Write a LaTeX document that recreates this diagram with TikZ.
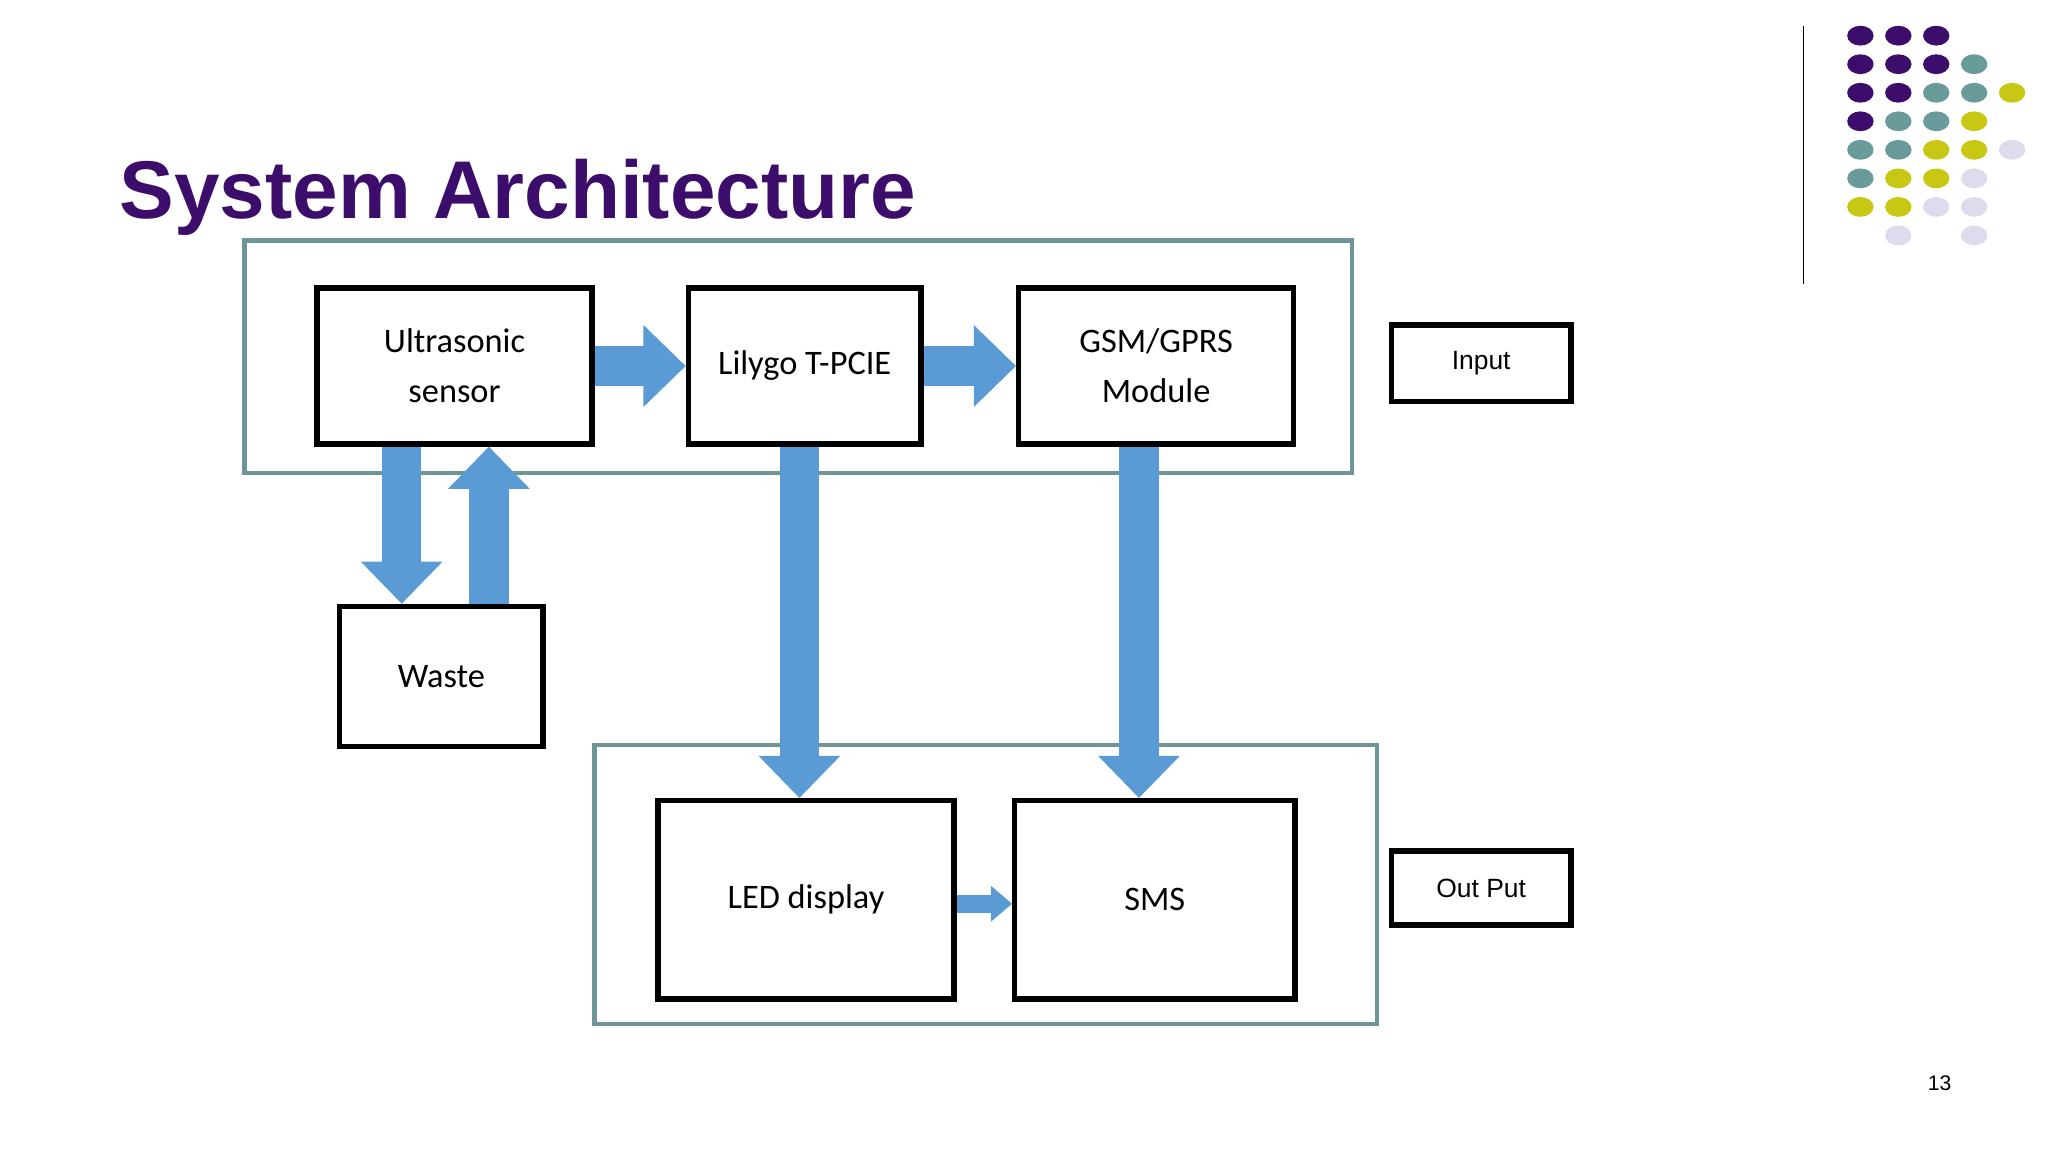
\documentclass[tikz,border=0pt]{standalone}
\usepackage{fontspec}
\setmainfont{Carlito}
\newfontfamily\titlefont{Liberation Sans}
\usetikzlibrary{arrows.meta,positioning}
\definecolor{titlepurple}{HTML}{3D0D6B}
\definecolor{dotpurple}{HTML}{3D0D6B}
\definecolor{dotteal}{HTML}{6A9B9B}
\definecolor{dotyellow}{HTML}{C8C814}
\definecolor{dotlilac}{HTML}{DCDCEC}
\definecolor{frameteal}{HTML}{6E9696}
\definecolor{flowblue}{HTML}{5B9BD5}

\begin{document}
\begin{tikzpicture}
[x=0.5pt, y=-0.5pt,
 block/.style={rectangle, draw, line width=2pt, inner sep=0pt, font=\fontsize{13}{19}\selectfont, align=center},
 frame/.style={draw=frameteal, line width=1.6pt},
 bigflow/.style={draw=flowblue, line width=15pt, -{Triangle[width=30pt,length=16pt]}},
 smallflow/.style={draw=flowblue, line width=7pt, -{Triangle[width=13pt,length=8pt]}}]
    \useasboundingbox (0,0) rectangle (1550,872);
    % title and page number
    \node[anchor=base west, inner sep=0pt, text=titlepurple, font=\titlefont\bfseries\fontsize{31}{36}\selectfont] (title) at (90,165) {System Architecture};
    \node[font=\titlefont\fontsize{8}{10}\selectfont] (page) at (1468,820) {13};
    % decoration
    \draw[line width=0.6pt] (1365,20) -- (1365,215);
    \foreach \col/\row/\c in {1/1/dotpurple,2/1/dotpurple,3/1/dotpurple,
        1/2/dotpurple,2/2/dotpurple,3/2/dotpurple,4/2/dotteal,
        1/3/dotpurple,2/3/dotpurple,3/3/dotteal,4/3/dotteal,5/3/dotyellow,
        1/4/dotpurple,2/4/dotteal,3/4/dotteal,4/4/dotyellow,
        1/5/dotteal,2/5/dotteal,3/5/dotyellow,4/5/dotyellow,5/5/dotlilac,
        1/6/dotteal,2/6/dotyellow,3/6/dotyellow,4/6/dotlilac,
        1/7/dotyellow,2/7/dotyellow,3/7/dotlilac,4/7/dotlilac,
        2/8/dotlilac,4/8/dotlilac}
        \fill[\c] ({1408+28.7*(\col-1)},{27+21.6*(\row-1)}) ellipse (10 and 7.5);
    % frames
    \draw[frame] (185,182) rectangle (1023,358);
    \draw[frame] (450,564) rectangle (1042,775);
    % blocks
    \node[block, minimum width=104pt, minimum height=59pt] (ultra) at (344,277) {Ultrasonic\\sensor};
    \node[block, minimum width=88pt, minimum height=59pt] (lilygo) at (609,277) {Lilygo T-PCIE};
    \node[block, minimum width=104pt, minimum height=59pt] (gsm) at (875,277) {GSM/GPRS\\Module};
    \node[block, minimum width=77pt, minimum height=53pt] (waste) at (334,512) {Waste};
    \node[block, minimum width=112pt, minimum height=75pt] (led) at (610,681) {LED display};
    \node[block, minimum width=106pt, minimum height=75pt] (sms) at (874,681) {SMS};
    \node[block, minimum width=68pt, minimum height=29pt, font=\titlefont\fontsize{10}{12}\selectfont] (input) at (1121,275) {Input};
    \node[block, minimum width=68pt, minimum height=28pt, font=\titlefont\fontsize{10}{12}\selectfont] (output) at (1121,672) {Out Put};
    % flows
    \draw[bigflow] (ultra.east) -- (lilygo.west);
    \draw[bigflow] (lilygo.east) -- (gsm.west);
    \draw[bigflow] (ultra.south -| 304,0) -- (waste.north -| 304,0);
    \draw[bigflow] (waste.north -| 370,0) -- (ultra.south -| 370,0);
    \draw[bigflow] (lilygo.south -| 605,0) -- (led.north -| 605,0);
    \draw[bigflow] (gsm.south -| 862,0) -- (sms.north -| 862,0);
    \draw[smallflow] (led.east |- 0,684) -- (sms.west |- 0,684);
\end{tikzpicture}
\end{document}
